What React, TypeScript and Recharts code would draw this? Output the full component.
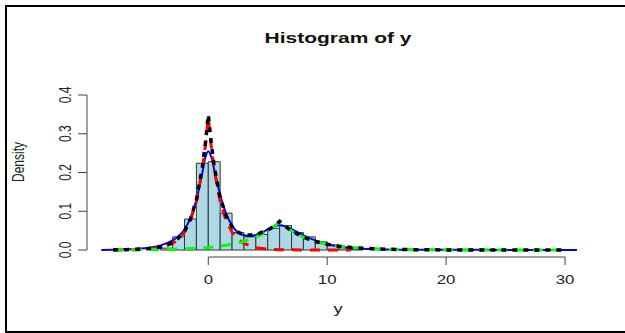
import React from "react";
import {
  ComposedChart,
  XAxis,
  YAxis,
  Line,
  ReferenceArea,
  ReferenceLine,
} from "recharts";

// histogram bins (left edge, width 1) and their densities
const binStarts = [-4, -3, -2, -1, 0, 1, 2, 3, 4, 5, 6, 7, 8, 9, 10, 11, 12];
const binDensity = [
  0.005, 0.034, 0.08, 0.224, 0.228, 0.095, 0.045, 0.034, 0.04, 0.056, 0.063,
  0.045, 0.034, 0.021, 0.013, 0.006, 0.003,
];

// blue: kernel density
const kdeX = [
  -9, -8, -7, -6, -5, -4, -3, -2.5, -2, -1.5, -1, -0.5, -0.25, 0, 0.25, 0.5, 1,
  1.5, 2, 2.5, 3, 3.5, 4, 4.5, 5, 5.5, 6, 6.5, 7, 7.5, 8, 9, 10, 11, 12, 13, 14,
  16, 20, 25, 31,
];
const kdeY = [
  0.0003, 0.001, 0.002, 0.0035, 0.006, 0.012, 0.025, 0.036, 0.053, 0.083, 0.13,
  0.2, 0.238, 0.255, 0.24, 0.208, 0.142, 0.094, 0.063, 0.045, 0.038, 0.036,
  0.039, 0.045, 0.053, 0.06, 0.064, 0.061, 0.054, 0.046, 0.038, 0.025, 0.015,
  0.009, 0.005, 0.003, 0.002, 0.001, 0.0006, 0.0003, 0,
];

// red: first component
const comp1X = [
  -8, -7, -6, -5, -4, -3, -2.5, -2, -1.5, -1, -0.5, -0.25, 0, 0.25, 0.5, 1, 1.5,
  2, 2.5, 3, 4, 5, 6, 8, 10, 12,
];
const comp1Y = [
  0.0001, 0.0003, 0.0009, 0.0023, 0.006, 0.017, 0.028, 0.046, 0.076, 0.125,
  0.207, 0.268, 0.342, 0.268, 0.207, 0.125, 0.076, 0.046, 0.028, 0.017, 0.006,
  0.0023, 0.0009, 0.0001, 0, 0,
];

// green: second component
const comp2X = [
  -8, -6, -4, -3, -2, -1, 0, 1, 2, 3, 4, 5, 5.5, 6, 6.5, 7, 8, 9, 10, 11, 12,
  13, 14, 16, 18, 20, 25, 30,
];
const comp2Y = [
  0.0005, 0.0009, 0.0015, 0.002, 0.003, 0.0045, 0.0066, 0.0099, 0.0147, 0.022,
  0.033, 0.049, 0.06, 0.073, 0.06, 0.049, 0.033, 0.022, 0.0147, 0.0099, 0.0066,
  0.0044, 0.003, 0.0013, 0.0006, 0.0003, 0.0001, 0,
];

// black: mixture
const mixX = [
  -8, -7, -6, -5, -4, -3, -2.5, -2, -1.5, -1, -0.5, -0.25, 0, 0.25, 0.5, 1, 1.5,
  2, 2.5, 3, 3.5, 4, 4.5, 5, 5.5, 6, 6.5, 7, 8, 9, 10, 11, 12, 13, 14, 16, 18,
  20, 25, 30,
];
const mixY = [
  0.0006, 0.001, 0.0018, 0.004, 0.0075, 0.019, 0.031, 0.049, 0.08, 0.13, 0.213,
  0.274, 0.349, 0.275, 0.215, 0.135, 0.088, 0.061, 0.046, 0.039, 0.039, 0.039,
  0.046, 0.051, 0.061, 0.074, 0.061, 0.049, 0.033, 0.022, 0.0147, 0.0099,
  0.0066, 0.0044, 0.003, 0.0013, 0.0006, 0.0003, 0.0001, 0,
];

const xTicks = [0, 10, 20, 30];
const yTicks = [0, 0.1, 0.2, 0.3, 0.4];
const yTickLabels = ["0.0", "0.1", "0.2", "0.3", "0.4"];

const X_MIN = -10.2;
const X_MAX = 32;
const Y_MIN = -0.018;
const Y_MAX = 0.44;

const FONT = '"Liberation Sans", Arial, Helvetica, sans-serif';
const STRETCH = 1.4; // the picture is widened horizontally

const zip = (xs: number[], ys: number[]) => xs.map((x, i) => ({ x, y: ys[i] }));

function XTick({ x, y, payload }: any) {
  return (
    <g transform={`translate(${x},${y + 17}) scale(${STRETCH},1)`}>
      <text x={0} y={0} textAnchor="middle" fontFamily={FONT} fontSize={12} fill="#222">
        {payload.value}
      </text>
    </g>
  );
}

function YTick({ x, y, payload }: any) {
  const idx = yTicks.indexOf(payload.value);
  return (
    <g transform={`translate(${x - 5},${y}) scale(${STRETCH},1) rotate(-90)`}>
      <text x={0} y={0} textAnchor="middle" fontFamily={FONT} fontSize={12} fill="#222">
        {idx >= 0 ? yTickLabels[idx] : payload.value}
      </text>
    </g>
  );
}

export default function App() {
  return (
    <div
      style={{
        position: "absolute",
        left: 0,
        top: 0,
        width: 625,
        height: 333,
        overflow: "hidden",
        background: "#fff",
      }}
    >
      <ComposedChart
        width={625}
        height={333}
        margin={{ top: 79.5, right: 36.2, bottom: 36, left: 37 }}
      >
        <XAxis
          dataKey="x"
          type="number"
          domain={[X_MIN, X_MAX]}
          ticks={xTicks}
          allowDataOverflow
          axisLine={false}
          tickSize={8}
          tickLine={{ stroke: "#444" }}
          tick={<XTick />}
          height={40}
        />
        <YAxis
          type="number"
          domain={[Y_MIN, Y_MAX]}
          ticks={yTicks}
          allowDataOverflow
          axisLine={false}
          tickSize={9}
          tickLine={{ stroke: "#444" }}
          tick={<YTick />}
          width={50}
        />
        <ReferenceLine
          segment={[{ x: 0, y: Y_MIN }, { x: 30, y: Y_MIN }]}
          stroke="#444"
          ifOverflow="visible"
        />
        <ReferenceLine
          segment={[{ x: X_MIN, y: 0 }, { x: X_MIN, y: 0.4 }]}
          stroke="#444"
          ifOverflow="visible"
        />
        {binStarts.map((b, i) => (
          <ReferenceArea
            key={b}
            x1={b}
            x2={b + 1}
            y1={0}
            y2={binDensity[i]}
            fill="#ADD8E6"
            fillOpacity={1}
            stroke="#333"
            strokeWidth={1}
          />
        ))}
        <Line
          data={zip(kdeX, kdeY)}
          dataKey="y"
          type="monotone"
          stroke="#0000FF"
          strokeWidth={2}
          dot={false}
          isAnimationActive={false}
        />
        <Line
          data={zip(comp1X, comp1Y)}
          dataKey="y"
          type="linear"
          stroke="#FF0000"
          strokeWidth={3}
          strokeDasharray="10 8"
          dot={false}
          isAnimationActive={false}
        />
        <Line
          data={zip(comp2X, comp2Y)}
          dataKey="y"
          type="linear"
          stroke="#00FF00"
          strokeWidth={3}
          strokeDasharray="10 8"
          dot={false}
          isAnimationActive={false}
        />
        <Line
          data={zip(mixX, mixY)}
          dataKey="y"
          type="linear"
          stroke="#000"
          strokeWidth={3.5}
          strokeDasharray="5 6"
          dot={false}
          isAnimationActive={false}
        />
      </ComposedChart>

      <svg
        width={625}
        height={333}
        style={{ position: "absolute", left: 0, top: 0, pointerEvents: "none" }}
      >
        <g transform={`translate(338,43) scale(${STRETCH},1)`}>
          <text textAnchor="middle" fontFamily={FONT} fontSize={15} fontWeight="bold" fill="#111">
            Histogram of y
          </text>
        </g>
        <g transform={`translate(338,313) scale(${STRETCH},1)`}>
          <text textAnchor="middle" fontFamily={FONT} fontSize={13} fill="#222">
            y
          </text>
        </g>
        <g transform={`translate(24,162) scale(${STRETCH},1) rotate(-90)`}>
          <text textAnchor="middle" fontFamily={FONT} fontSize={12} fill="#222">
            Density
          </text>
        </g>
      </svg>

      <div
        style={{
          position: "absolute",
          left: 5,
          top: 5,
          width: 700,
          height: 328,
          boxSizing: "border-box",
          border: "2px solid #000",
          pointerEvents: "none",
        }}
      />
    </div>
  );
}
